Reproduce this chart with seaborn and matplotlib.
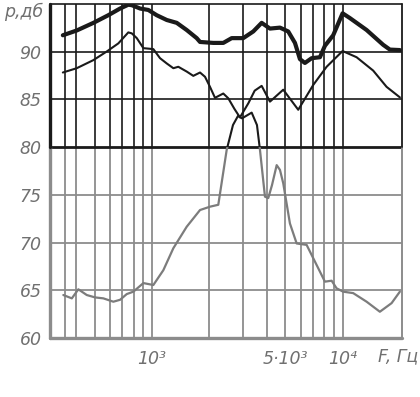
import numpy as np
import pandas as pd
import matplotlib
matplotlib.use("Agg")
import matplotlib.pyplot as plt
import seaborn as sns
from matplotlib.patches import Rectangle
from matplotlib.ticker import NullLocator

# ---- data ----
thick_f = [341, 403, 493, 590, 680, 751, 783, 866, 956, 1058, 1194, 1347, 1519, 1714, 1784,
           2094, 2362, 2614, 3006, 3392, 3753, 4148, 4680, 5170, 5608, 5955, 6324, 6858, 7580,
           8050, 8896, 9963, 10880, 13310, 16255, 17625, 19880]
thick_p = [91.7, 92.2, 93.0, 93.8, 94.5, 94.9, 94.85, 94.5, 94.35, 93.8, 93.3, 93.0, 92.25, 91.4, 91.0,
           90.9, 90.9, 91.4, 91.4, 92.1, 93.0, 92.4, 92.5, 92.1, 90.9, 89.2, 88.8, 89.3, 89.4,
           90.6, 91.7, 94.0, 93.5, 92.25, 90.7, 90.2, 90.15]

thin_f = [341, 403, 493, 579, 666, 751, 783, 832, 901, 1016, 1101, 1194, 1293, 1373, 1519,
          1645, 1784, 1895, 2012, 2137, 2362, 2509, 2700, 2888, 3200, 3450, 3753, 4148, 4869,
          5834, 6993, 8216, 9963, 11797, 14410, 16935, 19880]
thin_p = [87.8, 88.25, 89.1, 90.0, 90.85, 92.0, 91.9, 91.4, 90.35, 90.25, 89.3, 88.75, 88.25, 88.4, 87.9,
          87.45, 87.8, 87.35, 86.3, 85.15, 85.6, 85.1, 84.0, 83.1, 84.6, 85.9, 86.4, 84.75, 86.0,
          83.9, 86.5, 88.4, 90.05, 89.4, 88.0, 86.3, 85.2]

gray_f = [343, 380, 411, 455, 503, 556, 627, 680, 737, 798, 901, 1016, 1146, 1293, 1519,
          1784, 2012, 2224, 2461, 2655, 2820, 2960, 3327, 3546, 3677, 3905, 4064, 4250, 4498,
          4680, 4869, 5277, 5724, 6455, 7137, 8050, 8727, 9268, 10037, 11320, 13310, 15620,
          17990, 19880]
gray_p = [64.5, 64.15, 65.1, 64.5, 64.25, 64.15, 63.8, 64.0, 64.6, 64.85, 65.75, 65.55, 67.1, 69.4, 71.65,
          73.4, 73.75, 73.95, 79.7, 82.3, 83.25, 83.0, 83.6, 82.3, 79.7, 74.8, 74.65, 76.0, 78.1,
          77.6, 76.2, 72.0, 69.9, 69.75, 68.0, 65.9, 66.0, 65.2, 64.85, 64.7, 63.8, 62.75,
          63.65, 64.85]

y_ticks = [60, 65, 70, 75, 80, 85, 90]
y_labels = ["60", "65", "70", "75", "80", "85", "90"]
x_ticks = [1000, 5000, 10000]
x_labels = ["10³", "5·10³", "10⁴"]
grid_f = [350, 400, 500, 600, 700, 800, 900, 1000, 2000, 3000, 4000, 5000, 6000, 7000, 8000, 9000, 10000]

X_MIN, X_MAX = 292, 20400
Y_MIN, Y_MAX = 60, 95
DARK = "#1a1a1a"
GRAY = "#8c8c8c"
LBL = "#707070"

sns.set_theme(style="white")
plt.rcParams["font.family"] = ["Liberation Sans Narrow", "DejaVu Sans"]

fig = plt.figure(figsize=(4.2, 3.97), dpi=100)
ax = fig.add_axes([50 / 420, 1 - 338 / 397, 352 / 420, (338 - 3.75) / 397])

# grid
ax.vlines(grid_f, Y_MIN, 80, color=GRAY, lw=1.3, zorder=1)
ax.vlines(grid_f, 80, Y_MAX, color=DARK, lw=1.2, zorder=1)
ax.hlines([65, 70, 75], X_MIN, X_MAX, color=GRAY, lw=1.3, zorder=1)
ax.hlines([85, 90], X_MIN, X_MAX, color=DARK, lw=1.2, zorder=1)
ax.hlines([80], X_MIN, X_MAX, color=DARK, lw=2.0, zorder=1)

df_thick = pd.DataFrame({"f": thick_f, "p": thick_p})
df_thin = pd.DataFrame({"f": thin_f, "p": thin_p})
df_gray = pd.DataFrame({"f": gray_f, "p": gray_p})

sns.lineplot(data=df_gray, x="f", y="p", ax=ax, color="#7c7c7c", lw=1.6, zorder=3)
low_line = ax.lines[-1]
sns.lineplot(data=df_gray, x="f", y="p", ax=ax, color=DARK, lw=1.5, zorder=3)
up_line = ax.lines[-1]
sns.lineplot(data=df_thin, x="f", y="p", ax=ax, color=DARK, lw=1.5, zorder=4)
sns.lineplot(data=df_thick, x="f", y="p", ax=ax, color=DARK, lw=3.0, zorder=5)

ax.set_xscale("log")
ax.set_xlim(X_MIN, X_MAX)
ax.set_ylim(Y_MIN, Y_MAX)

ytr = ax.get_yaxis_transform()
r_low = Rectangle((0, Y_MIN - 5), 1, 80 - Y_MIN + 5, transform=ytr)
r_up = Rectangle((0, 80), 1, Y_MAX - 80 + 5, transform=ytr)
low_line.set_clip_path(r_low)
up_line.set_clip_path(r_up)

# frame
for s in ax.spines.values():
    s.set_visible(False)
f80 = (80 - Y_MIN) / (Y_MAX - Y_MIN)
ax.plot([0, 0], [0, f80], transform=ax.transAxes, color=GRAY, lw=2.4, clip_on=False, zorder=6)
ax.plot([0, 0], [f80, 1], transform=ax.transAxes, color=DARK, lw=2.4, clip_on=False, zorder=6)
ax.plot([1, 1], [0, f80], transform=ax.transAxes, color=GRAY, lw=1.4, clip_on=False, zorder=6)
ax.plot([1, 1], [f80, 1], transform=ax.transAxes, color=DARK, lw=1.3, clip_on=False, zorder=6)
ax.plot([0, 1], [0, 0], transform=ax.transAxes, color=GRAY, lw=2.4, clip_on=False, zorder=6)
ax.plot([0, 1], [1, 1], transform=ax.transAxes, color=DARK, lw=1.2, clip_on=False, zorder=6)

ax.set_xlabel("")
ax.set_ylabel("")
ax.set_yticks(y_ticks)
ax.set_yticklabels(y_labels, fontsize=12.5, style="italic", color=LBL)
ax.set_xticks(x_ticks)
ax.set_xticklabels(x_labels, fontsize=12.5, style="italic", color=LBL)
ax.xaxis.set_minor_locator(NullLocator())
ax.tick_params(axis="y", length=0, pad=6)
ax.tick_params(axis="x", length=0, pad=9)
ax.grid(False)

ax.text(-0.02, 94.2, "p,дб", transform=ytr, ha="right", va="center",
        fontsize=12.5, style="italic", color=LBL)
ax.text((418 - 50) / 352, -0.055, "F, Гц", transform=ax.transAxes, ha="right", va="center",
        fontsize=12.5, style="italic", color=LBL)

fig.savefig("out.png", dpi=100, facecolor="white")
